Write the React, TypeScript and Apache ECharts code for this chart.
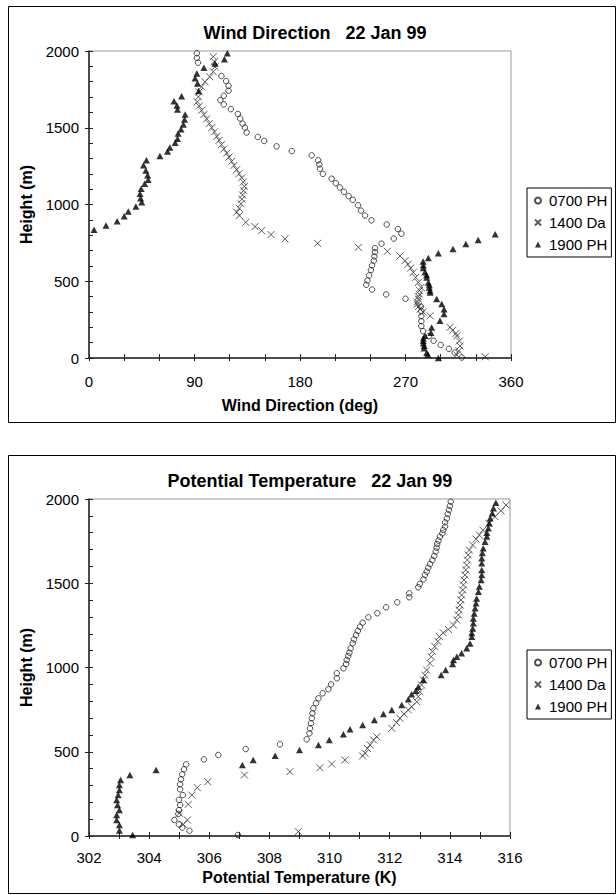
import React, { useEffect, useRef } from "react";
import * as echarts from "echarts";

// ---------- Data: Wind Direction (deg, height m) ----------
const windDir0700: [number, number][] = [
  [92, 1985], [92, 1955], [93, 1924], [113, 1837], [117, 1804], [119, 1773], [119, 1741], [115, 1708],
  [112, 1680], [115, 1652], [121, 1621], [127, 1590], [129, 1560], [131, 1527], [133, 1501], [134.5, 1469],
  [144, 1440], [149.5, 1414], [160, 1379], [173, 1348], [190, 1320], [195.5, 1288], [196.5, 1261], [197, 1233],
  [199.5, 1200], [207, 1168], [210.5, 1139], [214, 1111], [217.5, 1083], [221.5, 1055], [225, 1030], [229.5, 995],
  [232, 960], [235.5, 928], [241, 897], [254, 870], [263.5, 840], [266.5, 810], [260, 778], [249.5, 745],
  [244, 716], [244, 690], [243.5, 662], [243, 634], [241.5, 603], [240.5, 573], [239, 538], [237.5, 505],
  [236.5, 477], [241.5, 446], [253.5, 414], [270, 386], [283, 335], [283.5, 305], [283.5, 272], [283.5, 240],
  [283.5, 208], [285, 175], [290, 142], [294, 112], [300, 85], [307, 60], [312, 35], [318, 3],
];
const windDir1400: [number, number][] = [
  [106, 1963], [107, 1930], [107.5, 1897], [106, 1865], [103, 1832], [99, 1799], [96, 1767], [94, 1734],
  [93.3, 1701], [92.4, 1669], [94, 1641], [96, 1614], [98, 1586], [100.4, 1558], [102.6, 1527], [104.7, 1501],
  [107, 1473], [109, 1444], [111, 1418], [113, 1390], [115, 1361], [117.5, 1335], [119.4, 1309], [121.7, 1281],
  [123.7, 1255], [126, 1227], [128, 1201], [130.3, 1174], [131.6, 1146], [132.5, 1118], [131.8, 1090], [131, 1062],
  [130.5, 1035], [129.7, 1005], [128.2, 975], [126, 950], [128.2, 928], [133.7, 884], [141.6, 856], [147.3, 830],
  [155.3, 804], [167.2, 776], [195, 747], [229.8, 721], [254.5, 695], [265.3, 665], [269.6, 634], [272, 610],
  [274.4, 586], [276.7, 558], [278.7, 525], [280.9, 492], [283.2, 460], [282, 440], [281.8, 416], [281, 400],
  [281, 384], [280, 365], [280, 351], [281, 335], [282.4, 318], [285, 300], [291, 275], [308, 200],
  [310.3, 181], [313, 160], [313.7, 144], [316, 111], [316.5, 78], [315.4, 46], [313.7, 20], [338, 8],
];
const windDir1900: [number, number][] = [
  [118, 1985], [115.5, 1946], [107.5, 1919], [98, 1891], [92, 1854], [90.5, 1822], [92.5, 1789], [93.5, 1739],
  [79, 1706], [72.5, 1673], [75, 1645], [75.5, 1619], [82, 1586], [81.5, 1554], [80.5, 1521], [78.5, 1490],
  [76, 1462], [75.5, 1429], [73.5, 1403], [69, 1371], [67, 1346], [60.5, 1316], [49, 1288], [46.5, 1255],
  [48.5, 1222], [50, 1190], [50.5, 1161], [47.5, 1135], [44.5, 1103], [43.5, 1070], [44, 1040], [45, 1015],
  [40, 987], [33.5, 954], [30, 924], [24, 891], [14.5, 863], [4.3, 835],
  [346.5, 806], [332, 769], [321.5, 743], [310.5, 710], [298, 682], [289.5, 652], [285, 628], [285.2, 605],
  [285.2, 586], [286.6, 558], [288, 540], [288.1, 525], [289.5, 492], [290.3, 475], [290.3, 460], [290.9, 440],
  [291, 427], [296.6, 384], [300.9, 351], [302.9, 318], [302.9, 286], [299.4, 242], [292.3, 198], [291.7, 165],
  [286.6, 145], [285.2, 128], [285.2, 112], [285.2, 96], [286, 80], [285.8, 64], [288.1, 35], [289, 22], [298, 0],
];

// ---------- Data: Potential Temperature (K, height m) ----------
const potTemp0700: [number, number][] = [
  [314.03, 1984], [314.0, 1958], [313.97, 1935], [313.93, 1911], [313.9, 1885], [313.84, 1861], [313.84, 1836],
  [313.78, 1816], [313.75, 1796], [313.67, 1776], [313.62, 1753], [313.58, 1733], [313.56, 1711], [313.53, 1688],
  [313.48, 1662], [313.42, 1638], [313.34, 1614], [313.28, 1592], [313.23, 1569], [313.17, 1549], [313.12, 1523],
  [313.0, 1496], [312.95, 1476], [312.65, 1440], [312.65, 1417], [312.25, 1387], [311.88, 1357], [311.59, 1322],
  [311.29, 1298], [311.1, 1266], [311.01, 1242], [310.94, 1217], [310.88, 1193], [310.81, 1167], [310.77, 1144],
  [310.7, 1114], [310.66, 1088], [310.62, 1068], [310.57, 1045], [310.55, 1021], [310.46, 995], [310.24, 966],
  [310.24, 936], [310.05, 900], [309.96, 871], [309.77, 847], [309.63, 817], [309.55, 788], [309.46, 758],
  [309.43, 728], [309.41, 699], [309.38, 669], [309.35, 639], [309.33, 609], [309.24, 574], [308.35, 544],
  [307.21, 516], [306.3, 481], [305.82, 455], [305.23, 425], [305.16, 396], [305.1, 366], [305.06, 336],
  [305.03, 307], [305.03, 277], [305.12, 243], [304.99, 214], [305.03, 184], [304.99, 154], [304.97, 131],
  [304.84, 95], [304.99, 69], [305.1, 50], [305.34, 31], [306.95, 6],
];
const potTemp1400: [number, number][] = [
  [315.87, 1964], [315.7, 1930], [315.5, 1895], [315.3, 1855], [315.1, 1815], [314.98, 1786], [314.87, 1762],
  [314.76, 1727], [314.65, 1697], [314.61, 1668], [314.58, 1638], [314.56, 1608], [314.53, 1579], [314.5, 1549],
  [314.47, 1519], [314.45, 1490], [314.43, 1460], [314.39, 1430], [314.37, 1401], [314.34, 1371], [314.31, 1341],
  [314.28, 1312], [314.23, 1282], [314.12, 1252], [313.95, 1226], [313.78, 1206], [313.65, 1183], [313.6, 1155],
  [313.5, 1125], [313.42, 1095], [313.38, 1064], [313.34, 1025], [313.23, 985], [313.17, 955], [313.12, 926],
  [313.06, 896], [313.0, 856], [312.95, 827], [312.9, 797], [312.73, 767], [312.62, 748], [312.48, 724],
  [312.34, 699], [312.23, 673], [312.07, 639], [311.57, 589], [311.46, 570], [311.35, 540], [311.26, 520],
  [311.18, 491], [311.1, 475], [310.51, 451], [310.07, 427], [309.68, 405], [308.68, 382], [307.17, 362],
  [305.95, 322], [305.6, 287], [305.42, 243], [305.3, 188], [305.0, 135], [305.27, 95], [305.14, 69], [308.96, 26],
];
const potTemp1900: [number, number][] = [
  [315.53, 1978], [315.45, 1945], [315.41, 1915], [315.34, 1886], [315.31, 1856], [315.28, 1826], [315.23, 1800],
  [315.23, 1777], [315.17, 1747], [315.11, 1708], [315.08, 1680], [315.06, 1648], [315.06, 1619], [315.06, 1579],
  [315.06, 1549], [315.04, 1519], [314.98, 1480], [314.95, 1450], [314.89, 1410], [314.87, 1381], [314.84, 1351],
  [314.81, 1321], [314.78, 1291], [314.78, 1262], [314.76, 1232], [314.73, 1205], [314.73, 1183], [314.67, 1143],
  [314.56, 1114], [314.39, 1084], [314.23, 1064], [314.12, 1045], [314.09, 1021], [313.86, 985], [313.71, 955],
  [313.12, 926], [312.95, 886], [312.87, 862], [312.73, 841], [312.62, 811], [312.4, 777], [312.07, 748],
  [311.79, 724], [311.49, 688], [311.1, 659], [310.68, 633], [310.46, 604], [309.99, 570], [309.63, 540],
  [309.0, 510], [308.19, 477], [307.46, 451], [307.1, 421], [304.23, 392], [303.36, 362], [303.05, 332],
  [303.01, 303], [303.01, 273], [302.97, 243], [302.92, 214], [302.95, 184], [303.01, 154], [302.92, 125],
  [302.92, 95], [303.01, 65], [303.01, 32], [303.45, 6],
];

const seriesNames = ["0700 PH", "1400 Da", "1900 PH"];
const windTicks = { min: 0, max: 360, step: 30, labelStep: 90 };
const tempTicks = { min: 302, max: 316, step: 1, labelStep: 2 };
const heightTicks = { min: 0, max: 2000, step: 500 };

const FONT = "'Liberation Sans', Arial, Helvetica, sans-serif";
const AXIS_COLOR = "#222";
const CROSS = "path://M0,0L10,10M10,0L0,10";

function markerStyle(i: number): any {
  if (i === 0)
    return { symbol: "circle", symbolSize: 5.5, itemStyle: { color: "rgba(0,0,0,0)", borderColor: "#222", borderWidth: 1 } };
  if (i === 1)
    return { symbol: CROSS, symbolSize: 7, itemStyle: { color: "rgba(0,0,0,0)", borderColor: "#333", borderWidth: 1 } };
  return { symbol: "triangle", symbolSize: [7, 6.5], itemStyle: { color: "#000", borderWidth: 0 } };
}

function xAxes(
  grid: number,
  t: { min: number; max: number; step: number; labelStep: number },
  name: string,
  labelMargin: number,
  nameGap: number
): any[] {
  return [
    {
      gridIndex: grid, type: "value", position: "bottom", min: t.min, max: t.max, interval: t.step,
      axisLine: { show: true, onZero: false, lineStyle: { color: AXIS_COLOR, width: 1.5 } },
      axisTick: { show: true, inside: true, length: 4, lineStyle: { color: AXIS_COLOR, width: 1 } },
      axisLabel: {
        show: true, margin: labelMargin, color: "#000", fontSize: 15, fontFamily: FONT,
        formatter: (v: number) => (Math.abs((v - t.min) % t.labelStep) < 1e-6 ? String(v) : ""),
      },
      splitLine: { show: false },
      name, nameLocation: "middle", nameGap,
      nameTextStyle: { color: "#000", fontSize: 16, fontWeight: "bold", fontFamily: FONT },
    },
    {
      gridIndex: grid, type: "value", position: "bottom", min: t.min, max: t.max, interval: t.step,
      axisLine: { show: false, onZero: false },
      axisTick: { show: true, inside: false, length: 3, lineStyle: { color: AXIS_COLOR, width: 1 } },
      axisLabel: { show: false }, splitLine: { show: false },
    },
  ];
}

function yAxes(grid: number): any[] {
  return [
    {
      gridIndex: grid, type: "value", position: "left", min: heightTicks.min, max: heightTicks.max, interval: heightTicks.step,
      axisLine: { show: true, onZero: false, lineStyle: { color: AXIS_COLOR, width: 1.5 } },
      axisTick: { show: true, inside: true, length: 4, lineStyle: { color: AXIS_COLOR, width: 1 } },
      minorTick: { show: true, splitNumber: 5, length: 4, lineStyle: { color: AXIS_COLOR, width: 1 } },
      axisLabel: { show: true, margin: 10, color: "#000", fontSize: 15, fontFamily: FONT, formatter: (v: number) => String(v) },
      splitLine: { show: false }, minorSplitLine: { show: false },
      name: "Height (m)", nameLocation: "middle", nameGap: 43,
      nameTextStyle: { color: "#000", fontSize: 16, fontWeight: "bold", fontFamily: FONT },
    },
    {
      gridIndex: grid, type: "value", position: "left", min: heightTicks.min, max: heightTicks.max, interval: heightTicks.step,
      axisLine: { show: false, onZero: false },
      axisTick: { show: true, inside: false, length: 4, lineStyle: { color: AXIS_COLOR, width: 1 } },
      axisLabel: { show: false }, splitLine: { show: false },
    },
  ];
}

function legend(top: number): any {
  return {
    orient: "vertical", left: 527, top, data: seriesNames,
    backgroundColor: "#fff", borderColor: "#000", borderWidth: 1, borderRadius: 0,
    padding: [5, 4, 5, 7], itemGap: 7, itemWidth: 6, itemHeight: 6,
    textStyle: { color: "#000", fontSize: 15, fontFamily: FONT, padding: [0, 0, 0, 3] },
    selectedMode: false,
  };
}

export default function App() {
  const ref = useRef<HTMLDivElement>(null);
  useEffect(() => {
    if (!ref.current) return;
    const chart = echarts.init(ref.current, null, { renderer: "svg" });
    const windSets = [windDir0700, windDir1400, windDir1900];
    const tempSets = [potTemp0700, potTemp1400, potTemp1900];
    const series: any[] = [];
    windSets.forEach((d, i) =>
      series.push({ type: "scatter", name: seriesNames[i], xAxisIndex: 0, yAxisIndex: 0, data: d, ...markerStyle(i) })
    );
    tempSets.forEach((d, i) =>
      series.push({ type: "scatter", name: seriesNames[i], xAxisIndex: 2, yAxisIndex: 2, data: d, ...markerStyle(i) })
    );
    const option: any = {
      animation: false,
      backgroundColor: "#fff",
      textStyle: { fontFamily: FONT },
      grid: [
        { left: 89, top: 51, width: 422, height: 307, show: true, borderColor: "#999", borderWidth: 1, backgroundColor: "#fff", containLabel: false },
        { left: 89, top: 499, width: 421, height: 337, show: true, borderColor: "#999", borderWidth: 1, backgroundColor: "#fff", containLabel: false },
      ],
      xAxis: [
        ...xAxes(0, windTicks, "Wind Direction (deg)", 16, 39),
        ...xAxes(1, tempTicks, "Potential Temperature (K)", 14, 33),
      ],
      yAxis: [...yAxes(0), ...yAxes(1)],
      legend: [legend(188), legend(650)],
      graphic: [
        { type: "rect", silent: true, z: -10, shape: { x: 8.5, y: 6.5, width: 607, height: 416 }, style: { fill: "none", stroke: "#000", lineWidth: 1 } },
        { type: "rect", silent: true, z: -10, shape: { x: 8.5, y: 455.5, width: 607, height: 438 }, style: { fill: "none", stroke: "#000", lineWidth: 1 } },
        { type: "text", silent: true, x: 315, y: 33, style: { text: "Wind Direction   22 Jan 99", textAlign: "center", textVerticalAlign: "middle", fill: "#000", font: `bold 18px ${FONT}` } },
        { type: "text", silent: true, x: 310, y: 481, style: { text: "Potential Temperature   22 Jan 99", textAlign: "center", textVerticalAlign: "middle", fill: "#000", font: `bold 18px ${FONT}` } },
      ],
      series,
    };
    chart.setOption(option);
    return () => chart.dispose();
  }, []);
  return <div ref={ref} style={{ position: "absolute", left: 0, top: 0, width: 616, height: 895 }} />;
}
